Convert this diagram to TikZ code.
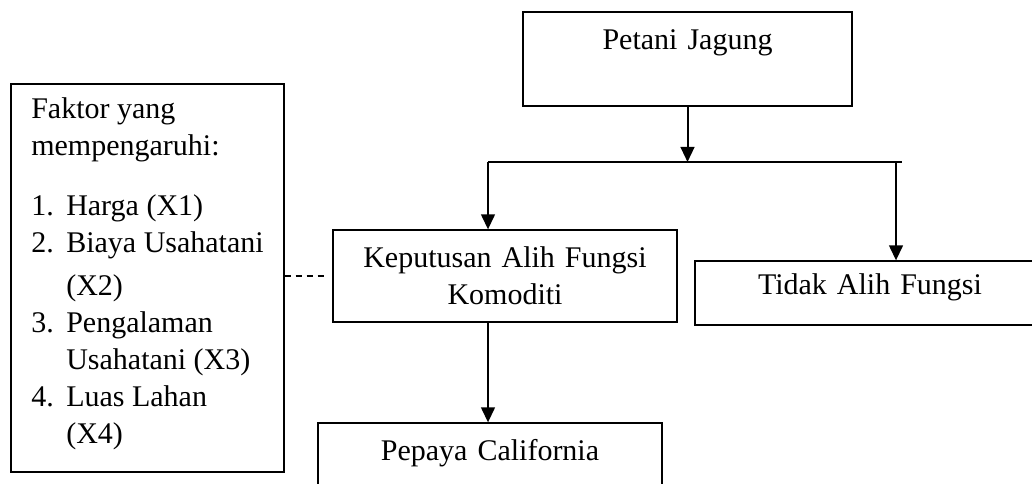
\documentclass[tikz,border=0pt]{standalone}
\usepackage{fontspec}
\setmainfont{Liberation Serif}
\usetikzlibrary{arrows.meta}

\begin{document}
\begin{tikzpicture}[x=0.4pt, y=-0.4pt, >={Triangle[width=5.5pt,length=6pt]}, line width=0.8pt,
    kotak/.style={draw, line width=0.5pt, inner sep=0pt, align=center, font=\fontsize{12}{14.8}\selectfont},
    putus/.style={dash pattern=on 2.4pt off 2pt, line width=0.6pt, shorten >=2pt}]
    \useasboundingbox (0,0) rectangle (1032,484);

    % Nodes {pj, kp, tf, pp, fk}
    \node [kotak, text width=131.6pt, text height=15.2pt, text depth=22.4pt]   (pj) at (687.5,59) {Petani Jagung};
    \node [kotak, text width=137.6pt, minimum height=36.8pt]                   (kp) at (505,276)  {Keputusan Alih Fungsi\\Komoditi};
    \node [kotak, text width=140pt, text height=13.6pt, text depth=12pt]       (tf) at (870,293)  {Tidak Alih Fungsi};
    \node [kotak, text width=137.6pt, text height=15.2pt, text depth=12pt]     (pp) at (490,457)  {Pepaya California};
    \node [kotak, align=left, inner xsep=8pt, minimum width=109.2pt, minimum height=155.2pt, text depth=5.8pt] (fk) at (147.5,278) {%
        Faktor yang\\
        mempengaruhi:\\[9.2pt]
        \makebox[14pt][l]{1.}Harga (X1)\\
        \makebox[14pt][l]{2.}Biaya Usahatani\\[2.4pt]
        \hspace*{14pt}(X2)\\
        \makebox[14pt][l]{3.}Pengalaman\\
        \hspace*{14pt}Usahatani (X3)\\
        \makebox[14pt][l]{4.}Luas Lahan\\
        \hspace*{14pt}(X4)};

    % Bar
    \coordinate (bl) at (488,162);
    \coordinate (br) at (902,162);
    \coordinate (bt) at (896,162);
    \draw (bl) -- (br);

    % Paths
    \path [->]    (pj.south)      edge (pj.south |- bl);
    \path [->]    (bl)            edge (bl |- kp.north);
    \path [->]    (bt)            edge (bt |- tf.north);
    \path [->]    (bl |- kp.south) edge (bl |- pp.north);
    \path [putus] (fk.east |- kp.west) edge (kp.west);

\end{tikzpicture}
\end{document}
